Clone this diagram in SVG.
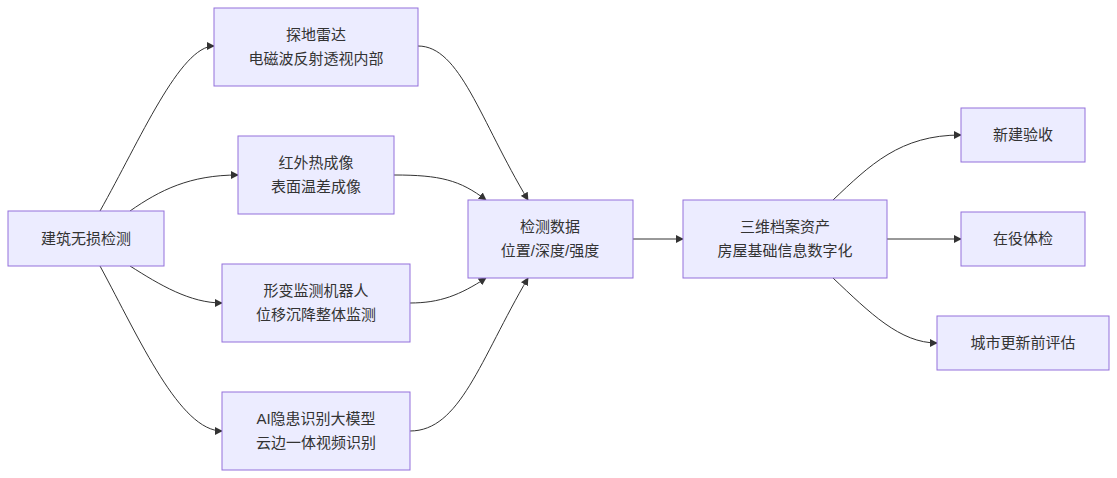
<svg xmlns="http://www.w3.org/2000/svg" width="1117" height="478" viewBox="0 0 1117 478">
<style>
.n rect{fill:#ECECFF;stroke:#9370DB;stroke-width:1}
.n text{font-family:"Liberation Sans","Noto Sans CJK SC",sans-serif;font-size:15px;fill:#333;text-anchor:middle}
.e path{fill:none;stroke:#333;stroke-width:1;marker-end:url(#a)}
</style>
<defs><marker id="a" viewBox="0 0 10 10" refX="9" refY="5" markerWidth="8" markerHeight="8" orient="auto"><path d="M0,0L10,5L0,10z" fill="#333"/></marker></defs>
<rect width="1117" height="478" fill="#fff"/>
<g class="e">
<path d="M100,211 C140,140 180,46 214,46"/>
<path d="M130,211 C160,190 190,175 238,175"/>
<path d="M130,266 C160,285 190,303 222,303"/>
<path d="M100,266 C140,340 180,431 222,431"/>
<path d="M418,46 C460,46 480,120 528,200"/>
<path d="M394,175 C440,175 460,180 486,200"/>
<path d="M410,303 C440,303 460,295 486,278"/>
<path d="M410,431 C460,431 480,360 528,278"/>
<path d="M633,239 L683,239"/>
<path d="M833,200 C870,165 900,135 961,135"/>
<path d="M887,239 L961,239"/>
<path d="M833,278 C870,313 900,343 937,343"/>
</g>
<g class="n" id="A"><rect x="8" y="211" width="156" height="55"/><text x="86" y="244">建筑无损检测</text></g>
<g class="n" id="B"><rect x="214" y="8" width="204" height="78"/><text x="316" y="40">探地雷达</text><text x="316" y="64">电磁波反射透视内部</text></g>
<g class="n" id="C"><rect x="238" y="136" width="156" height="78"/><text x="316" y="168">红外热成像</text><text x="316" y="192">表面温差成像</text></g>
<g class="n" id="D"><rect x="222" y="264" width="188" height="78"/><text x="316" y="296">形变监测机器人</text><text x="316" y="320">位移沉降整体监测</text></g>
<g class="n" id="E"><rect x="222" y="392" width="188" height="78"/><text x="316" y="424">AI隐患识别大模型</text><text x="316" y="448">云边一体视频识别</text></g>
<g class="n" id="F"><rect x="468" y="200" width="165" height="78"/><text x="550" y="232">检测数据</text><text x="550" y="256">位置/深度/强度</text></g>
<g class="n" id="G"><rect x="683" y="200" width="204" height="78"/><text x="785" y="232">三维档案资产</text><text x="785" y="256">房屋基础信息数字化</text></g>
<g class="n" id="H"><rect x="961" y="108" width="124" height="54"/><text x="1023" y="140">新建验收</text></g>
<g class="n" id="I"><rect x="961" y="212" width="124" height="54"/><text x="1023" y="244">在役体检</text></g>
<g class="n" id="J"><rect x="937" y="316" width="172" height="54"/><text x="1023" y="348">城市更新前评估</text></g>
</svg>
